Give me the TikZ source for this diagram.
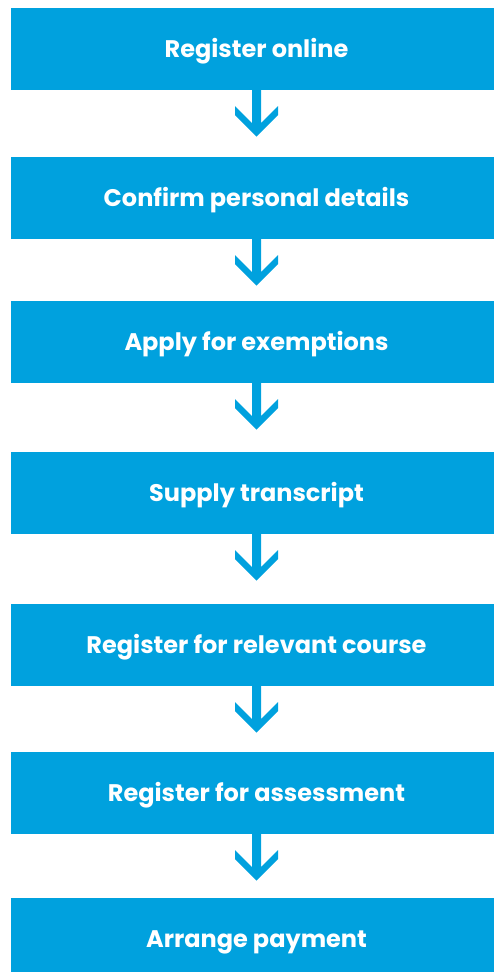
\documentclass[tikz,border=0pt]{standalone}
\usepackage{fontspec}
\setmainfont{Poppins}
\usepackage{tikz}

\definecolor{stepblue}{RGB}{0,161,222}

\begin{document}
\begin{tikzpicture}
[x=1pt,y=-1pt,every node/.style={fill=stepblue,text=white,font=\bfseries\fontsize{24}{28}\selectfont,minimum width=491pt,minimum height=82pt,inner sep=0pt,text height=17pt,text depth=-3pt}]
\useasboundingbox (0,0) rectangle (493,972);
\node (b1) at (256.5,49) {Register online};
\node (b2) at (256.5,198) {Confirm personal details};
\node (b3) at (256.5,342) {Apply for exemptions};
\node (b4) at (256.5,493) {Supply transcript};
\node (b5) at (256.5,645) {Register for relevant course};
\node (b6) at (256.5,793) {Register for assessment};
\node (b7) at (256.5,939) {Arrange payment};
\foreach \from in {b1,b2,b3,b4,b5,b6}
\fill[stepblue,shift={(\from.south)}] (-4.5,0) -- (-4.5,33) -- (-21.5,16) -- (-21.5,25) -- (0,46.5) -- (21.5,25) -- (21.5,16) -- (4.5,33) -- (4.5,0) -- cycle;

\end{tikzpicture}
\end{document}
